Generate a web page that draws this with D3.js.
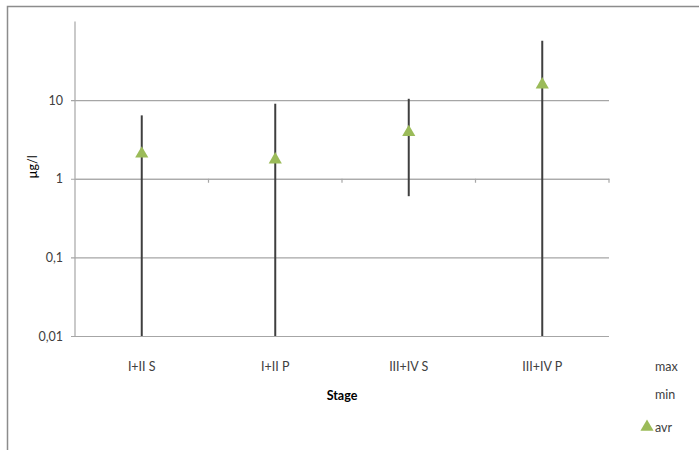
<!DOCTYPE html>
<html>
<head>
<meta charset="utf-8">
<script src="https://cdn.jsdelivr.net/npm/d3@7"></script>
<style>
  body { margin: 0; background: #fff; }
  svg text { font-family: Lato, "Open Sans", sans-serif; }
</style>
</head>
<body>
<svg id="chart" width="699" height="450"></svg>
<script>
/** Chart data **/
var stages = ["I+II S", "I+II P", "III+IV S", "III+IV P"];
var maxVals = [6.4, 9.0, 10.4, 57];
var minVals = [0.01, 0.01, 0.6, 0.01];
var avrVals = [2.08, 1.75, 3.9, 15.7];
var yTicks = [0.01, 0.1, 1, 10];
var yTickLabels = ["0,01", "0,1", "1", "10"];
var legendNames = ["max", "min", "avr"];

var plot_left = 75;
var plot_right = 609;
var plot_top = 21.5;
var plot_bottom = 336;

var color_line  = '#3f3f3f';
var color_grid  = '#a6a6a6';
var color_avr   = '#9bbb59';
var color_text  = '#404040';

var svg = d3.select("#chart");

// Outer chart frame (Excel chart area)
svg.append("rect")
    .attr("x", 7.5).attr("y", 6.5)
    .attr("width", 720).attr("height", 470)
    .attr("fill", "none")
    .attr("stroke", "#8c8c8c")
    .attr("stroke-width", 1.5);

var xScale = d3.scaleBand()
    .domain(stages)
    .range([plot_left, plot_right]);

var yScale = d3.scaleLog()
    .domain([0.01, 100])
    .range([plot_bottom, plot_top]);

// Gridlines + y axis
var yAxis = d3.axisLeft(yScale)
    .tickValues(yTicks)
    .tickSize(-(plot_right - plot_left))
    .tickFormat(function(d, i) { return yTickLabels[i]; });

var gY = svg.append("g")
    .attr("transform", "translate(" + plot_left + ",0)")
    .call(yAxis);
gY.select(".domain").remove();
gY.selectAll(".tick line")
    .attr("x1", -4)
    .attr("stroke", color_grid)
    .attr("stroke-width", 1.2);
gY.selectAll(".tick text")
    .attr("x", -12)
    .attr("fill", color_text)
    .style("font-size", "12.5px");

// vertical axis line
svg.append("line")
    .attr("x1", plot_left).attr("x2", plot_left)
    .attr("y1", plot_top).attr("y2", plot_bottom)
    .attr("stroke", color_grid)
    .attr("stroke-width", 1.2);

// Category axis crosses at 1
var xAxis = d3.axisBottom(xScale)
    .tickSize(0)
    .tickFormat("");
var gX = svg.append("g")
    .attr("transform", "translate(0," + yScale(1) + ")")
    .call(xAxis);
gX.select(".domain").attr("stroke", color_grid).attr("stroke-width", 1.2);

// boundary tick marks
svg.append("g").selectAll("line")
    .data(stages)
    .enter().append("line")
    .attr("x1", function(d) { return xScale(d) + xScale.bandwidth(); })
    .attr("x2", function(d) { return xScale(d) + xScale.bandwidth(); })
    .attr("y1", yScale(1))
    .attr("y2", yScale(1) + 4)
    .attr("stroke", color_grid)
    .attr("stroke-width", 1.2);

// Category labels (low position)
svg.append("g").selectAll("text")
    .data(stages)
    .enter().append("text")
    .attr("x", function(d) { return xScale(d) + xScale.bandwidth() / 2; })
    .attr("y", 371)
    .attr("text-anchor", "middle")
    .attr("fill", color_text)
    .style("font-size", "12.5px")
    .text(function(d) { return d; });

// high-low lines
svg.append("g").selectAll("line")
    .data(stages)
    .enter().append("line")
    .attr("x1", function(d) { return xScale(d) + xScale.bandwidth() / 2; })
    .attr("x2", function(d) { return xScale(d) + xScale.bandwidth() / 2; })
    .attr("y1", function(d, i) { return yScale(maxVals[i]); })
    .attr("y2", function(d, i) { return yScale(minVals[i]); })
    .attr("stroke", color_line)
    .attr("stroke-width", 2);

// avr markers
var tri = d3.symbol().type(d3.symbolTriangle).size(75);
svg.append("g").selectAll("path")
    .data(stages)
    .enter().append("path")
    .attr("d", tri)
    .attr("transform", function(d, i) {
        return "translate(" + (xScale(d) + xScale.bandwidth() / 2) + "," + yScale(avrVals[i]) + ")";
    })
    .attr("fill", color_avr);

// Axis titles
svg.append("text")
    .attr("transform", "translate(37," + 167 + ") rotate(-90)")
    .attr("text-anchor", "middle")
    .attr("fill", "#000")
    .style("font-size", "12.5px")
    .text("µg/l");

svg.append("text")
    .attr("x", (plot_left + plot_right) / 2)
    .attr("y", 400)
    .attr("text-anchor", "middle")
    .attr("fill", "#000")
    .style("font-size", "12.5px")
    .style("font-weight", "bold")
    .text("Stage");

// Legend
var legendY = [371, 399, 432];
var lg = svg.append("g");
lg.selectAll("text")
    .data(legendNames)
    .enter().append("text")
    .attr("x", 655)
    .attr("y", function(d, i) { return legendY[i]; })
    .attr("fill", color_text)
    .style("font-size", "12.5px")
    .text(function(d) { return d; });
lg.append("path")
    .attr("d", tri)
    .attr("transform", "translate(647," + (legendY[2] - 5) + ")")
    .attr("fill", color_avr);
</script>
</body>
</html>
